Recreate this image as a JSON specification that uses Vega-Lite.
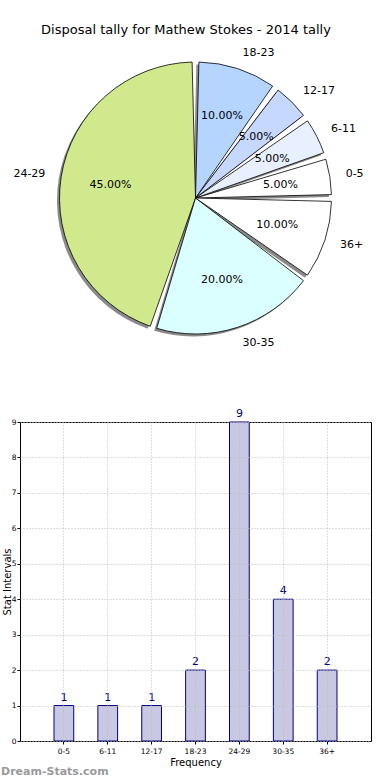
{
  "$schema": "https://vega.github.io/schema/vega-lite/v6.json",
  "autosize": {"type": "pad"},
  "padding": {"left": 0, "top": 24, "right": 0, "bottom": 0},
  "bounds": "flush",
  "spacing": 74,
  "config": {
    "font": "DejaVu Sans",
    "view": {"stroke": null}
  },
  "title": {
    "text": "Disposal tally for Mathew Stokes - 2014 tally",
    "fontSize": 13,
    "fontWeight": "normal",
    "color": "#000000",
    "anchor": "middle",
    "offset": 10
  },
  "datasets": {
    "tally": [
      {"interval": "0-5", "count": 1, "share": 0.05, "n": 0},
      {"interval": "6-11", "count": 1, "share": 0.05, "n": 1},
      {"interval": "12-17", "count": 1, "share": 0.05, "n": 2},
      {"interval": "18-23", "count": 2, "share": 0.10, "n": 3},
      {"interval": "24-29", "count": 9, "share": 0.45, "n": 4},
      {"interval": "30-35", "count": 4, "share": 0.20, "n": 5},
      {"interval": "36+", "count": 2, "share": 0.10, "n": 6}
    ]
  },
  "vconcat": [
    {
      "width": 351,
      "height": 300,
      "data": {"name": "tally"},
      "encoding": {
        "theta": {"field": "share", "type": "quantitative", "stack": true, "scale": {"range": [1.5708, 7.85398]}},
        "order": {"field": "n", "type": "quantitative", "sort": "descending"}
      },
      "layer": [
        {
          "mark": {"type": "arc", "outerRadius": 136, "padAngle": 0.05, "fill": "#8a8a8a", "xOffset": -2.5, "yOffset": 2.5}
        },
        {
          "mark": {"type": "arc", "outerRadius": 136, "padAngle": 0.05, "stroke": "#000000", "strokeWidth": 0.8},
          "encoding": {
            "color": {
              "field": "interval",
              "type": "nominal",
              "scale": {
                "domain": ["0-5", "6-11", "12-17", "18-23", "24-29", "30-35", "36+"],
                "range": ["#ffffff", "#e8f0ff", "#c6d8ff", "#b5d5ff", "#d1e98d", "#dbffff", "#ffffff"]
              },
              "legend": null
            }
          }
        },
        {
          "mark": {"type": "text", "radius": 86, "fontSize": 11, "color": "#000000", "align": "center", "baseline": "middle"},
          "encoding": {"text": {"field": "share", "type": "quantitative", "format": ".2%"}}
        },
        {
          "mark": {"type": "text", "radius": 152, "fontSize": 11, "color": "#000000", "align": "left", "baseline": "middle"},
          "encoding": {
            "text": {"field": "interval", "type": "nominal"},
            "opacity": {"condition": {"test": "datum.interval === '24-29'", "value": 0}, "value": 1}
          }
        },
        {
          "mark": {"type": "text", "radius": 152, "fontSize": 11, "color": "#000000", "align": "right", "baseline": "middle"},
          "encoding": {
            "text": {"field": "interval", "type": "nominal"},
            "opacity": {"condition": {"test": "datum.interval === '24-29'", "value": 1}, "value": 0}
          }
        }
      ]
    },
    {
      "width": 351,
      "height": 319,
      "view": {"stroke": "#000000", "strokeWidth": 1},
      "data": {"name": "tally"},
      "title": {
        "text": "Dream-Stats.com",
        "orient": "bottom",
        "anchor": "start",
        "frame": "group",
        "dx": -19,
        "offset": -2,
        "fontSize": 11,
        "fontWeight": "bold",
        "color": "#9a9a9a"
      },
      "encoding": {
        "x": {
          "field": "interval",
          "type": "nominal",
          "sort": ["0-5", "6-11", "12-17", "18-23", "24-29", "30-35", "36+"],
          "scale": {"paddingInner": 0.55, "paddingOuter": 0.775},
          "axis": {
            "title": "Frequency",
            "titleFontSize": 10,
            "titleFontWeight": "normal",
            "titleColor": "#000000",
            "titlePadding": 3,
            "labelAngle": 0,
            "labelFontSize": 7.5,
            "labelColor": "#000000",
            "labelPadding": 3,
            "tickSize": 3,
            "tickColor": "#000000",
            "domain": false,
            "grid": true,
            "bandPosition": 0.5,
            "gridColor": "#bdbdbd",
            "gridDash": [1, 2],
            "gridWidth": 1,
            "zindex": 1
          }
        },
        "y": {
          "field": "count",
          "type": "quantitative",
          "scale": {"domain": [0, 9], "nice": false},
          "axis": {
            "title": "Stat Intervals",
            "titleFontSize": 10,
            "titleFontWeight": "normal",
            "titleColor": "#000000",
            "titlePadding": -1,
            "values": [0, 1, 2, 3, 4, 5, 6, 7, 8, 9],
            "labelFontSize": 7.5,
            "labelColor": "#000000",
            "labelPadding": 1,
            "tickSize": 3,
            "tickColor": "#000000",
            "domain": false,
            "grid": true,
            "gridColor": "#bdbdbd",
            "gridDash": [1, 2],
            "gridWidth": 1,
            "zindex": 1
          }
        }
      },
      "layer": [
        {
          "mark": {"type": "bar", "fill": "#c8c8e2", "stroke": "#000080", "strokeWidth": 1}
        },
        {
          "mark": {"type": "text", "baseline": "bottom", "dy": -3, "fontSize": 11, "color": "#000080"},
          "encoding": {"text": {"field": "count", "type": "quantitative"}}
        }
      ]
    }
  ]
}
